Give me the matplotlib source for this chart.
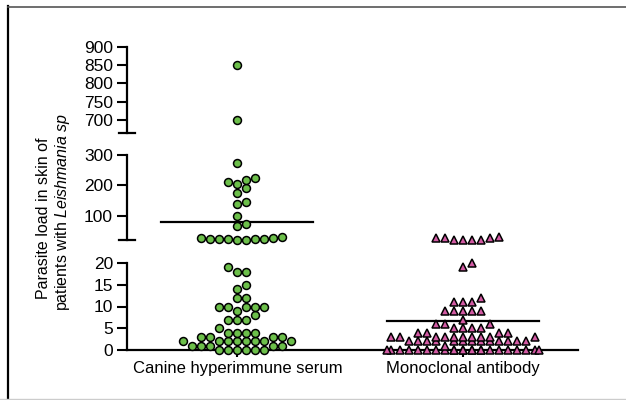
import numpy as np
import matplotlib.pyplot as plt
from matplotlib.lines import Line2D

plt.rcParams['font.family'] = 'Liberation Sans'
plt.rcParams['mathtext.fontset'] = 'custom'
plt.rcParams['mathtext.rm'] = 'Liberation Sans'
plt.rcParams['mathtext.it'] = 'Liberation Sans:italic'

# datos
groups = ['Canine hyperimmune serum', 'Monoclonal antibody']

serum = [850, 700, 273, 223, 218, 212, 205, 192, 174, 146, 138, 100, 73, 66,
         29, 27, 25, 24, 22, 22, 22, 22, 21, 21,
         19, 18, 18, 15, 14, 12, 12, 10, 10, 10, 10, 10, 9, 8, 7, 7, 7,
         5, 4, 4, 4, 4, 3, 3, 3, 3, 2, 2, 2, 2, 2, 2, 2, 2,
         1, 1, 1, 1, 1, 0, 0, 0, 0, 0, 0]

antibody = [30, 28, 27, 26, 21, 21, 21, 21, 20, 19,
            12, 11, 11, 11, 9, 9, 9, 9, 9, 7, 6, 6, 6, 5, 5, 5, 5,
            4, 4, 4, 4, 3, 3, 3, 3, 3, 3, 3, 3, 3, 3,
            2, 2, 2, 2, 2, 2, 2, 2, 2, 2, 2, 2, 2, 1,
            0, 0, 0, 0, 0, 0, 0, 0, 0, 0, 0, 0, 0, 0, 0, 0, 0, 0, 0, 0, 0, 0, 0]

mean_lines = [80, 6.6]

# tramos del eje y (min, max, ticks) de arriba hacia abajo
segments = [(665, 900, [700, 750, 800, 850, 900]),
            (20, 300, [100, 200, 300]),
            (0, 20, [0, 5, 10, 15, 20])]

W, H = 626, 400
fig = plt.figure(figsize=(W / 100, H / 100), dpi=100)

x0, x1 = 127, 578
rows = [(46.7, 132.7), (155, 240), (263, 350)]   # px desde arriba
axes = []
for (top, bot), (lo, hi, ticks) in zip(rows, segments):
    ax = fig.add_axes([x0 / W, 1 - bot / H, (x1 - x0) / W, (bot - top) / H])
    ax.set_ylim(lo, hi)
    ax.set_xlim(-0.49, 1.51)
    ax.set_yticks(ticks)
    ax.set_yticklabels([str(t) for t in ticks], fontsize=12.5)
    ax.tick_params(axis='y', direction='out', length=7, width=1.5, pad=3)
    for s in ['top', 'right']:
        ax.spines[s].set_visible(False)
    ax.spines['left'].set_linewidth(1.6)
    ax.patch.set_alpha(0)
    axes.append(ax)

for ax in axes[:2]:
    ax.spines['bottom'].set_visible(False)
    ax.set_xticks([])
    # marca de corte
    ax.plot([-8 / (x1 - x0), 8 / (x1 - x0)], [ax.get_ylim()[0]] * 2,
            transform=ax.get_yaxis_transform(), color='black', lw=1.6,
            clip_on=False)

axb = axes[2]
axb.spines['bottom'].set_linewidth(1.6)
axb.set_xticks([0, 1])
axb.set_xticklabels(groups, fontsize=12)
axb.tick_params(axis='x', direction='out', length=5, width=1.5, pad=3)


def eje_de(v):
    if v > 300:
        return axes[0]
    if v > 20:
        return axes[1]
    return axes[2]


def swarm(values, center, w=9.0, h=7.5, half=76):
    # posiciones candidatas, primero las mas cercanas al centro (derecha antes)
    cand = np.arange(half, -half - 0.01, -0.5)
    cand = cand[np.argsort(np.abs(cand), kind='stable')]
    placed = []
    out = []
    for v in sorted(values):
        ax = eje_de(v)
        y = ax.transData.transform((center, v))[1]
        best, best_pen = 0.0, None
        for c in cand:
            pen = 0.0
            for px, py in placed:
                if abs(py - y) < h and abs(c - px) < w:
                    pen += (w - abs(c - px)) * (h - abs(py - y))
            if pen == 0:
                best = c
                break
            if best_pen is None or pen < best_pen - 1e-9:
                best, best_pen = c, pen
        placed.append((best, y))
        out.append((v, best))
    return out


ppu = axb.transData.transform((1, 0))[0] - axb.transData.transform((0, 0))[0]

estilos = [dict(marker='o', ms=5.7, mfc='#6cbf4a', mec='black', mew=1.1),
           dict(marker='^', ms=5.7, mfc='#d25aa3', mec='black', mew=1.1)]

for i, datos in enumerate([serum, antibody]):
    for v, dx in swarm(datos, i):
        eje_de(v).plot(i + dx / ppu, v, ls='none', clip_on=False, zorder=3,
                       **estilos[i])
    half = 76 / ppu
    eje_de(mean_lines[i]).plot([i - half, i + half], [mean_lines[i]] * 2,
                               color='black', lw=1.6, zorder=2)

# etiqueta del eje y
fig.text(44 / W, 1 - 218 / H, 'Parasite load in skin of', rotation=90,
         ha='center', va='center', fontsize=11.5)
fig.text(62 / W, 1 - 212 / H, r'patients with $\mathit{Leishmania\ sp}$',
         rotation=90, ha='center', va='center', fontsize=11.5)

# marco
fig.add_artist(Line2D([8 / W, 8 / W], [0, 1 - 6 / H], color='black', lw=1.6))
fig.add_artist(Line2D([8 / W, 1], [1 - 6.5 / H] * 2, color='#555555', lw=1.2))
fig.add_artist(Line2D([0, 1], [1 - 399 / H] * 2, color='#cccccc', lw=1))

fig.savefig('out.png', dpi=100)
